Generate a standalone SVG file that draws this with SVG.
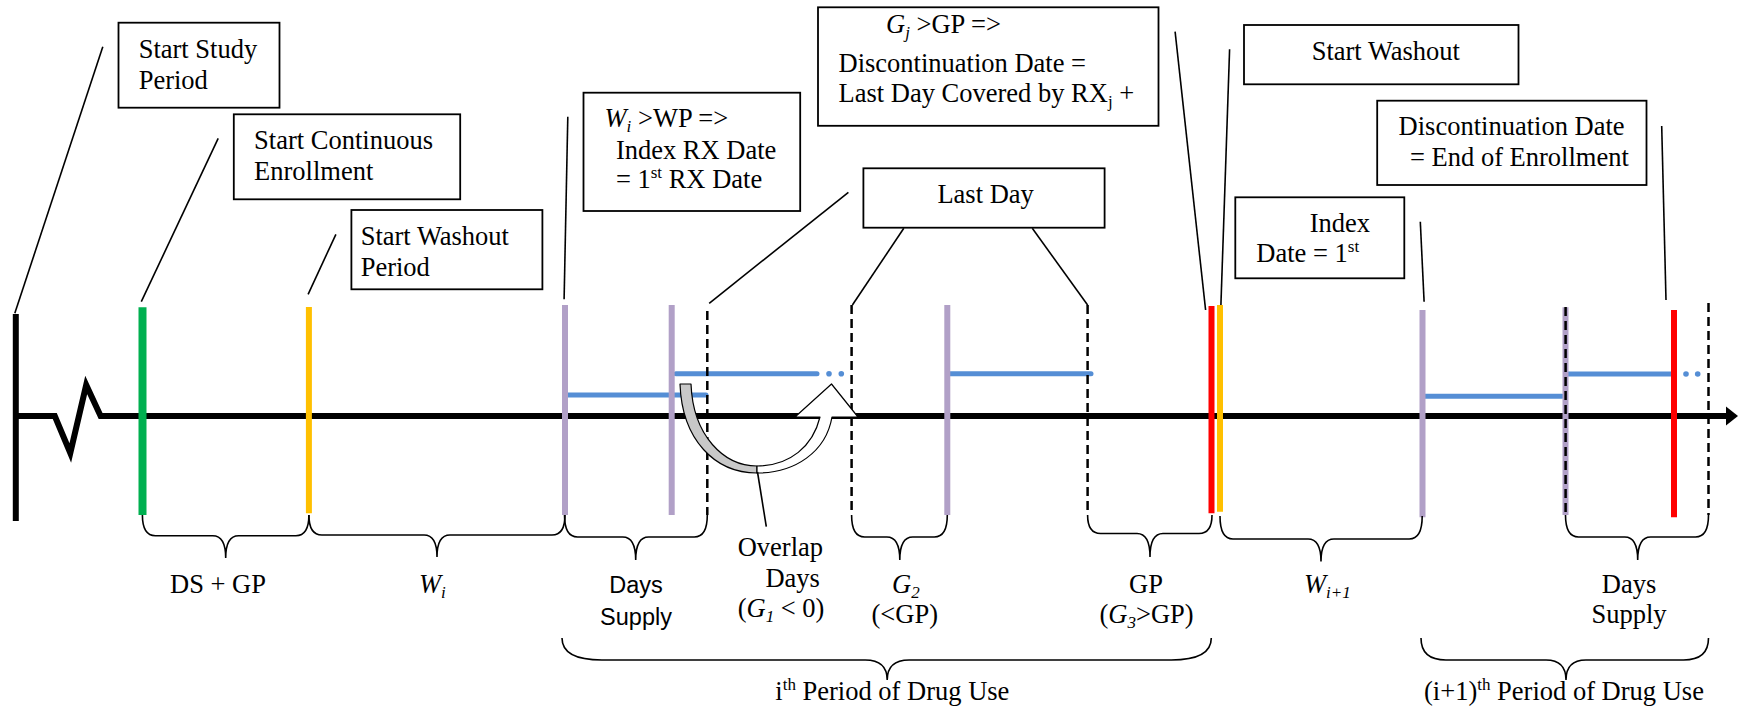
<svg xmlns="http://www.w3.org/2000/svg" width="1738" height="708" viewBox="0 0 1738 708">
  <style>
    .box { fill: #fff; stroke: #000; stroke-width: 1.8; }
    .lead { stroke: #000; stroke-width: 1.6; fill: none; }
    .t { font-family: "Liberation Serif", "Times New Roman", serif; font-size: 26.5px; fill: #000; }
    .s { font-family: "Liberation Sans", Arial, sans-serif; font-size: 23.5px; fill: #000; }
    .i { font-style: italic; }
    .brace { fill: none; stroke: #000; stroke-width: 1.6; }
    .dash { stroke: #000; stroke-width: 2.5; stroke-dasharray: 9 5; }
    .bar { stroke-width: 6; }
    .green { stroke: #00B050; stroke-width: 8; }
    .yellow { stroke: #FFC000; }
    .purple { stroke: #B1A0C7; }
    .red { stroke: #FF0000; }
    .rx { stroke: #558ED5; stroke-width: 5; stroke-linecap: round; }
    .dot { fill: #558ED5; }
    .axis { fill: none; stroke: #000; stroke-width: 6; }
  </style>

  <!-- time axis with break mark -->
  <g id="axis">
    <line class="axis" x1="15.8" y1="314" x2="15.8" y2="521" stroke-width="5"/>
    <polyline class="axis" points="15.8,416 54.8,416 70.3,453 86.2,385 100.6,416 1728,416"/>
    <polygon points="1726,406.5 1738,416 1726,425.5" fill="#000"/>
  </g>

  <!-- prescription fills (days supply) -->
  <g id="supply">
    <line class="rx" x1="565" y1="395" x2="706" y2="395"/>
    <line class="rx" x1="676" y1="373.7" x2="817" y2="373.7"/>
    <circle class="dot" cx="829" cy="373.7" r="2.8"/>
    <circle class="dot" cx="841.3" cy="373.7" r="2.8"/>
    <line class="rx" x1="948" y1="373.7" x2="1091" y2="373.7"/>
    <line class="rx" x1="1424" y1="396.3" x2="1562" y2="396.3"/>
    <line class="rx" x1="1568" y1="374" x2="1674" y2="374"/>
    <circle class="dot" cx="1686" cy="374" r="2.8"/>
    <circle class="dot" cx="1697.7" cy="374" r="2.8"/>
  </g>

  <!-- event markers on the axis -->
  <g id="markers">
    <line class="bar green" x1="142.5" y1="307.3" x2="142.5" y2="515"/>
    <line class="bar yellow" x1="308.9" y1="307" x2="308.9" y2="513.3"/>
    <line class="bar purple" x1="565" y1="305" x2="565" y2="515"/>
    <line class="bar purple" x1="671.7" y1="305" x2="671.7" y2="515"/>
    <line class="bar purple" x1="947.3" y1="305" x2="947.3" y2="515"/>
    <line class="bar red" x1="1211.5" y1="306" x2="1211.5" y2="513.3"/>
    <line class="bar yellow" x1="1220" y1="305" x2="1220" y2="511.7"/>
    <line class="bar purple" x1="1422.5" y1="310" x2="1422.5" y2="517.3"/>
    <line class="bar purple" x1="1565.5" y1="307.3" x2="1565.5" y2="515"/>
    <line class="bar red" x1="1674" y1="310" x2="1674" y2="517.3"/>
  </g>

  <!-- end of each supply (dashed) -->
  <g id="supply-ends">
    <line class="dash" x1="707.3" y1="311" x2="707.3" y2="515"/>
    <line class="dash" x1="851.6" y1="305" x2="851.6" y2="515"/>
    <line class="dash" x1="1087.6" y1="305" x2="1087.6" y2="515"/>
    <line class="dash" x1="1565.6" y1="307" x2="1565.6" y2="515"/>
    <line class="dash" x1="1708.5" y1="303" x2="1708.5" y2="515"/>
  </g>

  <!-- overlap carried forward -->
  <g id="overlap-arrow" stroke="#000" stroke-width="1.2" stroke-linejoin="round">
    <path d="M680,384 C682,440 715,473 757,473 L757,466 C724,466 693,436 691,384 Z" fill="#C8C8C8"/>
    <path d="M757,473 C795,473 826,452 832,417 L858,417 L831.5,384 L795,417 L820,417 C813,446 790,466 757,466 Z" fill="#fff"/>
  </g>

  <!-- connectors -->
  <g id="connectors">
    <line class="lead" x1="102.8" y1="46.7" x2="14.8" y2="313.3"/>
    <line class="lead" x1="218.2" y1="138.3" x2="141.3" y2="301.7"/>
    <line class="lead" x1="335.9" y1="234.3" x2="308.1" y2="294.3"/>
    <line class="lead" x1="567.8" y1="116.7" x2="564.1" y2="299.3"/>
    <line class="lead" x1="848.4" y1="192.3" x2="709.2" y2="303.3"/>
    <line class="lead" x1="903.8" y1="228.3" x2="852.4" y2="305"/>
    <line class="lead" x1="1032.3" y1="228.3" x2="1087.6" y2="305"/>
    <line class="lead" x1="1175.1" y1="31.7" x2="1205.6" y2="310"/>
    <line class="lead" x1="1229.6" y1="49.3" x2="1220.9" y2="305"/>
    <line class="lead" x1="1420.3" y1="221.7" x2="1424.1" y2="301.7"/>
    <line class="lead" x1="1661.7" y1="126" x2="1666" y2="300"/>
    <line class="lead" x1="757.5" y1="472" x2="766.3" y2="526.7"/>
  </g>

  <!-- interval braces -->
  <g id="braces">
    <path class="brace" d="M142.4,515 Q142.4,535.7 155.4,535.7 L212.7,535.7 Q225.7,535.7 225.7,558 Q225.7,535.7 238.7,535.7 L295.9,535.7 Q308.9,535.7 308.9,515"/>
    <path class="brace" d="M308.9,515 Q308.9,535 321.9,535 L424,535 Q437,535 437,557 Q437,535 450,535 L552,535 Q565,535 565,515"/>
    <path class="brace" d="M564.5,515 Q564.5,537 577.5,537 L622.7,537 Q635.7,537 635.7,560 Q635.7,537 648.7,537 L694.3,537 Q707.3,537 707.3,515"/>
    <path class="brace" d="M851.6,515 Q851.6,537 864.6,537 L886.8,537 Q899.8,537 899.8,560 Q899.8,537 912.8,537 L934.3,537 Q947.3,537 947.3,515"/>
    <path class="brace" d="M1087.6,515 Q1087.6,533.5 1100.6,533.5 L1137,533.5 Q1150,533.5 1150,557 Q1150,533.5 1163,533.5 L1199,533.5 Q1212,533.5 1212,515"/>
    <path class="brace" d="M1220,516 Q1220,539 1233,539 L1308,539 Q1321,539 1321,561.5 Q1321,539 1334,539 L1409.2,539 Q1422.2,539 1422.2,516"/>
    <path class="brace" d="M1565.5,515 Q1565.5,537 1578.5,537 L1624.7,537 Q1637.7,537 1637.7,560 Q1637.7,537 1650.7,537 L1695.5,537 Q1708.5,537 1708.5,515"/>
    <path class="brace" d="M562,638 Q562,660 602,660 L865.2,660 Q887.2,660 887.2,680 Q887.2,660 909.2,660 L1171.3,660 Q1211.3,660 1211.3,638"/>
    <path class="brace" d="M1421,638 Q1421,660 1446,660 L1546,660 Q1566,660 1566,680 Q1566,660 1586,660 L1683.5,660 Q1708.5,660 1708.5,638"/>
  </g>

  <!-- callout boxes -->
  <g id="start-study">
    <rect class="box" x="118.5" y="22.7" width="161" height="85"/>
    <text class="t" x="138.7" y="58.3">Start Study</text>
    <text class="t" x="138.7" y="89.3">Period</text>
  </g>
  <g id="start-enrollment">
    <rect class="box" x="233.8" y="114.3" width="226.4" height="85"/>
    <text class="t" x="254.1" y="149">Start Continuous</text>
    <text class="t" x="254.1" y="180">Enrollment</text>
  </g>
  <g id="start-washout">
    <rect class="box" x="351.4" y="210" width="191" height="79.3"/>
    <text class="t" x="360.7" y="245">Start Washout</text>
    <text class="t" x="360.7" y="275.7">Period</text>
  </g>
  <g id="index-rx">
    <rect class="box" x="583.5" y="92.7" width="216.7" height="118.3"/>
    <text class="t" x="604.5" y="126.7"><tspan class="i">W</tspan><tspan class="i" font-size="17" dy="5">i</tspan><tspan dy="-5"> &gt;WP =&gt;</tspan></text>
    <text class="t" x="615.9" y="159">Index RX Date</text>
    <text class="t" x="615.9" y="188.3">= 1<tspan font-size="17" dy="-10">st</tspan><tspan dy="10"> RX Date</tspan></text>
  </g>
  <g id="discontinuation-gap">
    <rect class="box" x="818" y="7.3" width="340.5" height="118.5"/>
    <text class="t" x="886" y="33.3"><tspan class="i">G</tspan><tspan class="i" font-size="17" dy="5">j</tspan><tspan dy="-5"> &gt;GP =&gt;</tspan></text>
    <text class="t" x="838.5" y="71.7">Discontinuation Date =</text>
    <text class="t" x="838.5" y="101.7">Last Day Covered by RX<tspan font-size="17" dy="5">j</tspan><tspan dy="-5"> +</tspan></text>
  </g>
  <g id="last-day">
    <rect class="box" x="863.4" y="168.3" width="241.2" height="59.4"/>
    <text class="t" x="937.4" y="203.3">Last Day</text>
  </g>
  <g id="start-washout-2">
    <rect class="box" x="1244" y="25" width="274.5" height="59.3"/>
    <text class="t" x="1311.7" y="60">Start Washout</text>
  </g>
  <g id="end-enrollment">
    <rect class="box" x="1377.2" y="100.7" width="269.3" height="84.3"/>
    <text class="t" x="1398.6" y="135">Discontinuation Date</text>
    <text class="t" x="1410" y="166">= End of Enrollment</text>
  </g>
  <g id="index-date">
    <rect class="box" x="1235.3" y="197.3" width="169" height="81"/>
    <text class="t" x="1309.7" y="232.3">Index</text>
    <text class="t" x="1256.3" y="262.3">Date = 1<tspan font-size="17" dy="-10">st</tspan></text>
  </g>

  <!-- interval labels -->
  <g id="labels">
    <text class="t" x="170" y="592.7">DS + GP</text>
    <text class="t" x="419" y="592.7"><tspan class="i">W</tspan><tspan class="i" font-size="17" dy="5">i</tspan></text>
    <text class="s" x="636" y="593.3" text-anchor="middle">Days</text>
    <text class="s" x="636" y="625" text-anchor="middle">Supply</text>
    <text class="t" x="737.7" y="556">Overlap</text>
    <text class="t" x="765.4" y="586.7">Days</text>
    <text class="t" x="737.7" y="616.7">(<tspan class="i">G</tspan><tspan class="i" font-size="17" dy="5">1</tspan><tspan dy="-5"> &lt; 0)</tspan></text>
    <text class="t" x="892" y="593.3"><tspan class="i">G</tspan><tspan class="i" font-size="17" dy="5">2</tspan></text>
    <text class="t" x="904.8" y="623.3" text-anchor="middle">(&lt;GP)</text>
    <text class="t" x="1146" y="593.3" text-anchor="middle">GP</text>
    <text class="t" x="1099.5" y="623.3">(<tspan class="i">G</tspan><tspan class="i" font-size="17" dy="5">3</tspan><tspan dy="-5">&gt;GP)</tspan></text>
    <text class="t" x="1304" y="593.3"><tspan class="i">W</tspan><tspan class="i" font-size="17" dy="5">i+1</tspan></text>
    <text class="t" x="1629" y="592.7" text-anchor="middle">Days</text>
    <text class="t" x="1629" y="623.3" text-anchor="middle">Supply</text>
    <text class="t" x="775.3" y="700">i<tspan font-size="17" dy="-10">th</tspan><tspan dy="10"> Period of Drug Use</tspan></text>
    <text class="t" x="1424" y="700">(i+1)<tspan font-size="17" dy="-10">th</tspan><tspan dy="10"> Period of Drug Use</tspan></text>
  </g>
</svg>
